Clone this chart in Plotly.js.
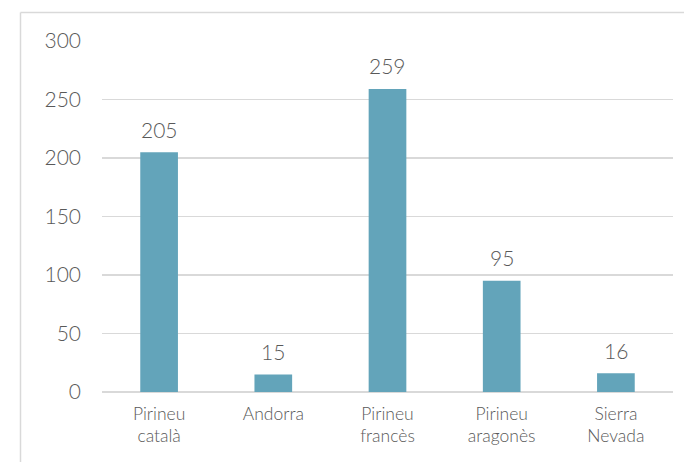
<!DOCTYPE html>
<html>
<head>
<meta charset="utf-8">
<script src="https://cdn.plot.ly/plotly-3.0.1.min.js"></script>
<style>html,body{margin:0;padding:0;background:#fff;}#chart{width:684px;height:462px;}</style>
</head>
<body>
<div id="chart"></div>
<script>
const categories = ["Pirineu<br>català", "Andorra", "Pirineu<br>francès", "Pirineu<br>aragonès", "Sierra<br>Nevada"];
const values = [205, 15, 259, 95, 16];
const yTicks = [0, 50, 100, 150, 200, 250, 300];

const L = 102, R = 11, T = 41, B = 70, W = 684, H = 462;
const pw = W - L - R, ph = H - T - B;
const px = x => (x - L) / pw;
const py = y => (H - B - y) / ph;

const FONT = 'Lato, sans-serif';

const trace = {
  type: 'bar',
  x: categories,
  y: values,
  marker: {color: '#63a4ba'},
  hoverinfo: 'none'
};

const annotations = categories.map((c, i) => ({
  x: c, y: values[i], xref: 'x', yref: 'y',
  text: String(values[i]),
  showarrow: false,
  yanchor: 'middle',
  yshift: 23,
  font: {family: FONT, size: 21, color: '#595959', weight: 300}
}));

const layout = {
  width: W, height: H,
  margin: {l: L, r: R, t: T, b: B, pad: 0},
  paper_bgcolor: '#ffffff',
  plot_bgcolor: '#ffffff',
  showlegend: false,
  bargap: 0.67,
  font: {family: FONT, color: '#595959'},
  xaxis: {
    showgrid: false, showline: false, zeroline: false, ticks: '',
    ticklabelstandoff: 9,
    tickfont: {size: 17.5, color: '#595959', weight: 300},
    fixedrange: true
  },
  yaxis: {
    range: [0, 300],
    tickvals: yTicks,
    ticktext: yTicks.map(String),
    showgrid: true, gridcolor: '#d9d9d9', gridwidth: 1.5,
    zeroline: true, zerolinecolor: '#d9d9d9', zerolinewidth: 1.5,
    showline: false, ticks: '',
    ticklabelstandoff: 20,
    tickfont: {size: 21, color: '#595959', weight: 300},
    fixedrange: true
  },
  annotations: annotations,
  shapes: [
    {type: 'line', xref: 'paper', yref: 'paper', x0: px(20.5), x1: px(20.5), y0: py(12.5), y1: py(470), line: {color: '#d9d9d9', width: 1.5}},
    {type: 'line', xref: 'paper', yref: 'paper', x0: px(20.5), x1: px(690), y0: py(12.5), y1: py(12.5), line: {color: '#d9d9d9', width: 1.5}}
  ]
};

Plotly.newPlot('chart', [trace], layout, {displayModeBar: false, staticPlot: true});
</script>
</body>
</html>
